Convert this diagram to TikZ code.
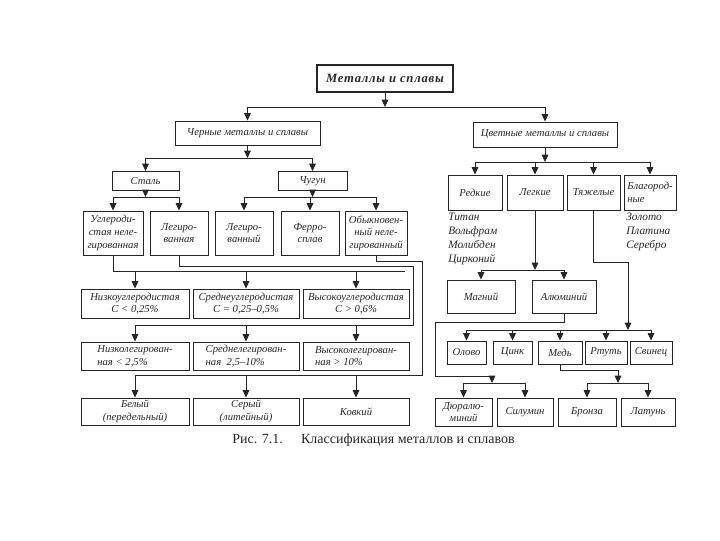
\documentclass[tikz,border=0pt]{standalone}
\usepackage{fontspec}
\setmainfont{Liberation Serif}
\newfontfamily\topfamily[LetterSpace=6]{Liberation Serif}
\usetikzlibrary{arrows.meta}
\definecolor{ink}{gray}{0.15}
\tikzset{
  box/.style={draw=ink, line width=0.7pt, inner sep=1pt, align=center, text=ink,
    font=\fontsize{8}{9.5}\selectfont\itshape},
  wh/.style 2 args={minimum width=#1*0.75pt, minimum height=#2*0.75pt},
  topbox/.style={box, line width=0.9pt, font=\topfamily\fontsize{9.5}{11}\selectfont\bfseries\itshape},
  midbox/.style={box, font=\fontsize{8}{10}\selectfont\itshape},
  listtext/.style={inner sep=0pt, align=left, text=ink, font=\fontsize{8.5}{10.5}\selectfont\itshape},
  conn/.style={draw=ink, line width=0.6pt},
  arr/.style={conn, -{Triangle[length=5.5pt,width=5pt]}},
}
\begin{document}
\begin{tikzpicture}[x=0.75pt,y=0.75pt,yscale=-1,xscale=1]
\useasboundingbox (0,0) rectangle (720,540);

% Root
\node[topbox, wh={136}{27}] (met) at (385,78.5) {Металлы и сплавы};

% Ferrous and non-ferrous
\node[midbox, wh={145}{24}] (fer) at (247.5,133) {Черные металлы и сплавы};
\node[midbox, wh={144}{25}] (nonfer) at (545,134.5) {Цветные металлы и сплавы};

% Steel and cast iron
\node[box, wh={67}{19}] (steel) at (145.5,181) {Сталь};
\node[box, wh={69}{19}] (iron) at (312.5,181) {Чугун};

% Kinds of steel and cast iron
\node[box, wh={60}{44}] (carb) at (113,233) {Углероди-\\стая неле-\\гированная};
\node[box, wh={58}{44}] (alst) at (179,233) {Легиро-\\ванная};
\node[box, wh={58}{44}] (alir) at (244,233) {Легиро-\\ванный};
\node[box, wh={58}{44}] (ferro) at (310,233) {Ферро-\\сплав};
\node[box, wh={62}{44}] (plain) at (376,233) {Обыкновен-\\ный неле-\\гированный};

% Carbon content
\node[box, wh={108}{29}] (lowc) at (135,303.5) {Низкоуглеродистая\\C < 0,25\%};
\node[box, wh={106}{29}] (midc) at (246,303.5) {Среднеуглеродистая\\C = 0,25–0,5\%};
\node[box, wh={106}{29}] (highc) at (356,303.5) {Высокоуглеродистая\\C > 0,6\%};

% Alloy content
\node[box, align=left, wh={108}{28}] (lowa) at (135,356) {Низколегирован-\\ная < 2,5\%};
\node[box, align=left, wh={106}{28}] (mida) at (246,356) {Среднелегирован-\\ная~~2,5–10\%};
\node[box, align=left, wh={106}{28}] (higha) at (356,356) {Высоколегирован-\\ная > 10\%};

% Kinds of cast iron
\node[box, wh={108}{27}] (white) at (135,411.5) {Белый\\(передельный)};
\node[box, wh={106}{27}] (grey) at (246,411.5) {Серый\\(литейный)};
\node[box, wh={106}{27}] (mall) at (356,411.5) {Ковкий};

% Non-ferrous groups
\node[box, wh={54}{35}] (rare) at (475,192.5) {Редкие};
\node[box, wh={56}{35}] (light) at (535,192.5) {Легкие};
\node[box, wh={53}{35}] (heavy) at (593.5,192.5) {Тяжелые};
\node[box, align=left, wh={52}{35}] (noble) at (650,192.5) {Благород-\\ные};
\node[listtext, anchor=north west] (rarelist) at (448,213) {Титан\\Вольфрам\\Молибден\\Цирконий};
\node[listtext, anchor=north west] (noblelist) at (626,213) {Золото\\Платина\\Серебро};

% Light metals
\node[box, wh={68}{33}] (mg) at (481,296.5) {Магний};
\node[box, wh={64}{33}] (al) at (564,296.5) {Алюминий};

% Heavy metals
\node[box, wh={39}{23}] (tin) at (466.5,352.5) {Олово};
\node[box, wh={39}{23}] (zinc) at (512.5,352.5) {Цинк};
\node[box, wh={44}{23}] (cu) at (560,352.5) {Медь};
\node[box, wh={42}{23}] (hg) at (606,352.5) {Ртуть};
\node[box, wh={42}{23}] (pb) at (651,352.5) {Свинец};

% Alloys
\node[box, wh={57}{28}] (dur) at (463.5,412) {Дюралю-\\миний};
\node[box, wh={56}{28}] (sil) at (525,412) {Силумин};
\node[box, wh={58}{28}] (bronze) at (587,412) {Бронза};
\node[box, wh={54}{28}] (brass) at (648,412) {Латунь};

% Caption
\node[anchor=west, inner sep=0pt, text=ink, font=\fontsize{10.5}{12}\selectfont] (cap) at (232,440) {Рис. 7.1.\hspace{1.3em}Классификация металлов и сплавов};

% Bus levels
\coordinate (b0) at (385,107);
\coordinate (b1) at (247.5,158);
\coordinate (b2) at (145.5,197);
\coordinate (b3) at (312.5,197);
\coordinate (b4) at (545,162);
\coordinate (b5) at (535,270);
\coordinate (b6) at (628,330);
\coordinate (b7) at (492,383);
\coordinate (b8) at (618,383);

% Root to the two groups
\draw[arr] (met) -- (b0);
\draw[conn] (fer.north |- b0) -- (nonfer.north |- b0);
\draw[arr] (fer.north |- b0) -- (fer.north);
\draw[arr] (nonfer.north |- b0) -- (nonfer.north);

% Ferrous
\draw[arr] (fer) -- (b1);
\draw[conn] (steel.north |- b1) -- (iron.north |- b1);
\draw[arr] (steel.north |- b1) -- (steel.north);
\draw[arr] (iron.north |- b1) -- (iron.north);

\draw[arr] (steel) -- (b2);
\draw[conn] (carb.north |- b2) -- (alst.north |- b2);
\draw[arr] (carb.north |- b2) -- (carb.north);
\draw[arr] (alst.north |- b2) -- (alst.north);

\draw[arr] (iron) -- (b3);
\draw[conn] (alir.north |- b3) -- (plain.north |- b3);
\draw[arr] (alir.north |- b3) -- (alir.north);
\draw[arr] (ferro.north |- b3) -- (ferro.north);
\draw[arr] (plain.north |- b3) -- (plain.north);

% Carbon steel route
\coordinate (ra) at (405,271);
\draw[conn] (carb.south) |- (ra);
\draw[arr] (lowc.north |- ra) -- (lowc.north);
\draw[arr] (midc.north |- ra) -- (midc.north);
\draw[arr] (highc.north |- ra) -- (highc.north);

% Alloy steel route
\coordinate (rb1) at (413,266);
\coordinate (rb2) at (413,325);
\draw[conn] (alst.south) |- (rb1) -- (rb2) -- (lowa.north |- rb2);
\draw[arr] (lowa.north |- rb2) -- (lowa.north);
\draw[arr] (mida.north |- rb2) -- (mida.north);
\draw[arr] (higha.north |- rb2) -- (higha.north);

% Plain cast iron route
\coordinate (rc1) at (422,261);
\coordinate (rc2) at (422,375);
\draw[conn] (plain.south) |- (rc1) -- (rc2) -- (white.north |- rc2);
\draw[arr] (white.north |- rc2) -- (white.north);
\draw[arr] (grey.north |- rc2) -- (grey.north);
\draw[arr] (mall.north |- rc2) -- (mall.north);

% Non-ferrous
\draw[arr] (nonfer) -- (b4);
\draw[conn] (rare.north |- b4) -- (noble.north |- b4);
\draw[arr] (rare.north |- b4) -- (rare.north);
\draw[arr] (light.north |- b4) -- (light.north);
\draw[arr] (heavy.north |- b4) -- (heavy.north);
\draw[arr] (noble.north |- b4) -- (noble.north);

% Light metals
\draw[arr] (light) -- (b5);
\draw[conn] (mg.north |- b5) -- (al.north |- b5);
\draw[arr] (mg.north |- b5) -- (mg.north);
\draw[arr] (al.north |- b5) -- (al.north);

% Heavy metals
\coordinate (rh) at (628,262);
\draw[conn] (heavy.south) |- (rh);
\draw[arr] (rh) -- (b6);
\draw[conn] (tin.north |- b6) -- (pb.north |- b6);
\draw[arr] (tin.north |- b6) -- (tin.north);
\draw[arr] (zinc.north |- b6) -- (zinc.north);
\draw[arr] (cu.north |- b6) -- (cu.north);
\draw[arr] (hg.north |- b6) -- (hg.north);
\draw[arr] (pb.north |- b6) -- (pb.north);

% Aluminium alloys
\coordinate (rl1) at (435,322);
\coordinate (rl2) at (435,376);
\draw[conn] (al.south) |- (rl1) -- (rl2) -- (b7 |- rl2);
\draw[arr] (b7 |- rl2) -- (b7);
\draw[conn] (dur.north |- b7) -- (sil.north |- b7);
\draw[arr] (dur.north |- b7) -- (dur.north);
\draw[arr] (sil.north |- b7) -- (sil.north);

% Copper alloys
\coordinate (rm) at (618,370);
\draw[conn] (cu.south) |- (rm);
\draw[arr] (rm) -- (b8);
\draw[conn] (bronze.north |- b8) -- (brass.north |- b8);
\draw[arr] (bronze.north |- b8) -- (bronze.north);
\draw[arr] (brass.north |- b8) -- (brass.north);

\end{tikzpicture}
\end{document}
